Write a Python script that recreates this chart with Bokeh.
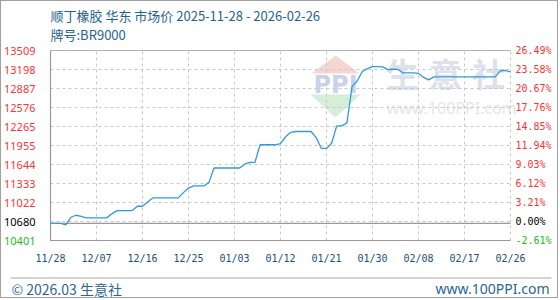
import pandas as pd
import numpy as np
from bokeh.plotting import figure
from bokeh.models import Range1d, ColumnDataSource
from bokeh.core.properties import value
from bokeh.embed import file_html
from bokeh.resources import INLINE

# ---------------- data ----------------
title_line1 = "顺丁橡胶 华东 市场价 2025-11-28 - 2026-02-26"
title_line2 = "牌号:BR9000"
start_date = "2025-11-28"
end_date = "2026-02-26"
prices = [
    10680, 10680, 10680, 10657, 10781, 10814, 10797, 10771, 10771, 10771,
    10771, 10771, 10837, 10890, 10890, 10890, 10890, 10961, 10961, 11029,
    11098, 11098, 11098, 11098, 11098, 11098, 11184, 11258, 11293, 11293,
    11293, 11352, 11587, 11587, 11587, 11587, 11587, 11587, 11649, 11678,
    11678, 11967, 11967, 11967, 11967, 11984, 12098, 12171, 12184, 12184,
    12184, 12184, 12081, 11907, 11907, 11992, 12277, 12277, 12326, 12922,
    13011, 13166, 13212, 13245, 13245, 13240, 13196, 13202, 13199, 13142,
    13142, 13142, 13134, 13069, 13028, 13077, 13077, 13077, 13077, 13077,
    13077, 13077, 13077, 13077, 13077, 13077, 13077, 13077, 13175, 13183,
    13158,
]
x_tick_dates = ["2025-11-28", "2025-12-07", "2025-12-16", "2025-12-25", "2026-01-03",
                "2026-01-12", "2026-01-21", "2026-01-30", "2026-02-08", "2026-02-17",
                "2026-02-26"]
x_tick_labels = ["11/28", "12/07", "12/16", "12/25", "01/03", "01/12",
                 "01/21", "01/30", "02/08", "02/17", "02/26"]
y_tick_labels = ["10401", "10680", "11022", "11333", "11644", "11955",
                 "12265", "12576", "12887", "13198", "13509"]
pct_tick_labels = ["-2.61%", "0.00%", "3.21%", "6.12%", "9.03%", "11.94%",
                   "14.85%", "17.76%", "20.67%", "23.58%", "26.49%"]
base_price = 10680
y_min, y_max = 10401, 13509
footer_left = "© 2026.03 生意社"
footer_right = "www.100PPI.com"
wm_chars = ["生", "意", "社"]
wm_url = "www.100PPI.com"
wm_logo = "PPI"

# ---------------- setup ----------------
dates = pd.date_range(start_date, end_date, freq="D")
x0 = pd.Timestamp(start_date).value / 1e6
x1 = pd.Timestamp(end_date).value / 1e6
tick_ms = [pd.Timestamp(d).value / 1e6 for d in x_tick_dates]
y_pos = list(np.linspace(y_min, y_max, len(y_tick_labels)))

FL, FR, FT, FB = 50, 510, 50, 240   # plot area in page pixels


def sx(px):
    return x0 + (px - FL) / (FR - FL) * (x1 - x0)


def sy(py):
    return y_max - (py - FT) / (FB - FT) * (y_max - y_min)


# frame covers whole canvas (canvas sits at page offset 1 because of the CSS border)
p = figure(width=558, height=298, x_axis_type="datetime",
           x_range=Range1d(sx(1), sx(559)), y_range=Range1d(sy(299), sy(1)),
           output_backend="svg", toolbar_location=None,
           min_border=0)
p.styles = {"border": "1px solid #a0a0a0"}
p.outline_line_color = None
p.background_fill_color = "white"
p.border_fill_color = "white"
p.xaxis.visible = False
p.yaxis.visible = False
p.xgrid.visible = False
p.ygrid.visible = False

# ---------------- watermark ----------------
p.patch([sx(335), sx(359), sx(311)], [sy(55), sy(73), sy(73)],
        fill_color="#f6d6d2", line_color=None)
p.patch([sx(310), sx(360), sx(335)], [sy(94), sy(94), sy(117)],
        fill_color="#d6edd8", line_color=None)
p.text(x=[sx(335)], y=[sy(84)], text=[wm_logo], text_font=value("DejaVu Sans"),
       text_font_style="bold", text_font_size="24px", text_color="#c9d2e8",
       text_align="center", text_baseline="middle")
p.text(x=[sx(402), sx(445), sx(488)], y=[sy(72)] * 3, text=wm_chars,
       text_font=value("Noto Sans CJK SC"), text_font_style="bold",
       text_font_size="33px", text_color="#dde1eb",
       text_align="center", text_baseline="middle")
p.text(x=[sx(386)], y=[sy(107)], text=[wm_url], text_font=value("Noto Sans"),
       text_font_size="16px", text_color="#e6e6e6",
       text_align="left", text_baseline="middle")

# ---------------- grid & frame lines ----------------
p.segment(x0=[sx(FL)] * len(y_pos), y0=y_pos, x1=[sx(FR)] * len(y_pos), y1=y_pos,
          line_color="#c8c8c8", line_dash="3 3", line_width=1)
p.segment(x0=tick_ms, y0=[y_min] * len(tick_ms), x1=tick_ms, y1=[y_max] * len(tick_ms),
          line_color="#c8c8c8", line_dash="3 3", line_width=1)
p.segment(x0=[x0, x0, x0, x0], y0=[y_min, y_min, base_price, y_max],
          x1=[x0, x1, x1, x1], y1=[y_max, y_min, base_price, y_max],
          line_color=["#999999", "#999999", "#999999", "#b4b4b4"], line_width=1.2)

# ---------------- data line ----------------
p.line(x=dates, y=prices, line_color="#3399dd", line_width=1.3)

# ---------------- tick labels ----------------
cols = []
for lab in y_tick_labels:
    if int(lab) == base_price:
        cols.append("#000000")
    elif int(lab) < base_price:
        cols.append("#22bb22")
    else:
        cols.append("#ff3333")
ysrc = ColumnDataSource(dict(xl=[sx(35)] * len(y_pos), xr=[sx(515)] * len(y_pos), y=y_pos,
                             lab=y_tick_labels, pct=pct_tick_labels, col=cols))
p.text(x="xl", y="y", text="lab", source=ysrc, text_font=value("Noto Sans"),
       text_font_size="11px", text_color="col", text_align="right", text_baseline="middle")
p.text(x="xr", y="y", text="pct", source=ysrc, text_font=value("DejaVu Sans Mono"),
       text_font_size="10px", text_color="col", text_align="left", text_baseline="middle")
p.text(x=tick_ms, y=[sy(258)] * len(tick_ms), text=x_tick_labels,
       text_font=value("DejaVu Sans Mono"), text_font_size="10px", text_color="#1a5080",
       text_align="center", text_baseline="middle")

# ---------------- titles & footer ----------------
p.text(x=[sx(50), sx(50)], y=[sy(15), sy(34)], text=[title_line1, title_line2],
       text_font=value("Noto Sans CJK SC"), text_font_size="13px", text_color="#1f6391",
       text_align="left", text_baseline="middle")
p.segment(x0=[sx(10)], y0=[sy(277.5)], x1=[sx(551)], y1=[sy(277.5)],
          line_color="#a8a8a8", line_width=1)
p.text(x=[sx(11)], y=[sy(288)], text=[footer_left], text_font=value("Noto Sans CJK SC"),
       text_font_size="14px", text_color="#2a6597", text_align="left", text_baseline="middle")
p.text(x=[sx(549)], y=[sy(288)], text=[footer_right], text_font=value("Noto Sans"),
       text_font_size="14px", text_color="#2a6597", text_align="right", text_baseline="middle")

open("out.html", "w").write(file_html(p, INLINE))
